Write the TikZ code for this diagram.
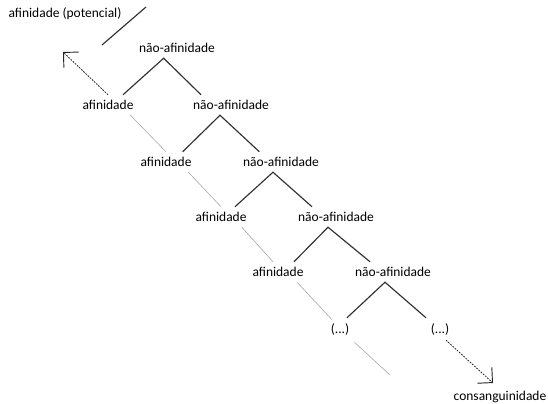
\documentclass[tikz,border=0pt]{standalone}
\usepackage{fontspec}
\setmainfont{Carlito}
\usetikzlibrary{arrows.meta}

\begin{document}
\begin{tikzpicture}[font=\fontsize{11.5}{13}\selectfont,
    every node/.style={inner sep=0pt, minimum height=0.6cm},
    branch/.style={line width=1pt, black!80},
    guide/.style={line width=0.5pt, black!35},
    hint/.style={line width=0.7pt, black!85, dash pattern=on 1.5pt off 1pt,
      -{Straight Barb[length=0.32cm, width=0.64cm, line width=0.8pt]}}]
  \useasboundingbox (0,0) rectangle (16.44,12.12);
  % labels
  \node (pot) at (1.95, 11.70) {afinidade (potencial)};
  \node (n0) at (5.31, 10.68) {não-afinidade};
  \node (a1) at (3.24, 8.97) {afinidade};
  \node (n1) at (6.93, 8.97) {não-afinidade};
  \node (a2) at (4.98, 7.26) {afinidade};
  \node (n2) at (8.43, 7.26) {não-afinidade};
  \node (a3) at (6.63, 5.61) {afinidade};
  \node (n3) at (10.08, 5.61) {não-afinidade};
  \node (a4) at (8.34, 3.96) {afinidade};
  \node (n4) at (11.79, 3.96) {não-afinidade};
  \node (r5) at (10.20, 2.22) {(...)};
  \node (s5) at (13.20, 2.22) {(...)};
  \node (cons) at (15.00, 0.21) {consanguinidade};
  \coordinate (up) at (1.89, 10.56);
  \coordinate (down) at (14.79, 0.63);
  \coordinate (e5) at (11.70, 0.87);
  \coordinate (cut1) at (3.06, 10.77);
  \coordinate (cut2) at (4.38, 11.91);
  % separator
  \draw [branch] (cut1) -- (cut2);
  % tree
  \draw [branch] ([xshift=0.45cm]a1.north) -- ([xshift=-0.4cm]n0.south) -- ([xshift=-0.9cm]n1.north);
  \draw [branch] ([xshift=0.5cm]a2.north) -- ([xshift=-0.33cm]n1.south) -- ([xshift=-0.65cm]n2.north);
  \draw [branch] ([xshift=0.42cm]a3.north) -- ([xshift=-0.24cm]n2.south) -- ([xshift=-0.72cm]n3.north);
  \draw [branch] ([xshift=0.48cm]a4.north) -- ([xshift=-0.24cm]n3.south) -- ([xshift=-0.69cm]n4.north);
  \draw [branch] ([xshift=0.21cm,yshift=0.06cm]r5.north) -- ([xshift=-0.24cm]n4.south) -- ([xshift=-0.42cm,yshift=0.06cm]s5.north);
  % afinidade chain
  \draw [guide] ([xshift=-0.1cm]a1.south east) -- (a2.north);
  \draw [guide] ([xshift=-0.1cm]a2.south east) -- (a3.north);
  \draw [guide] ([xshift=-0.15cm]a3.south east) -- ([xshift=-0.15cm]a4.north);
  \draw [guide] ([xshift=-0.2cm]a4.south east) -- ([xshift=-0.24cm]r5.north);
  \draw [guide] ([xshift=0.15cm,yshift=-0.06cm]r5.south east) -- (e5);
  % arrows
  \draw [hint] (a1.north) -- (up);
  \draw [hint] ([xshift=-0.1cm]s5.south east) -- (down);
\end{tikzpicture}
\end{document}
